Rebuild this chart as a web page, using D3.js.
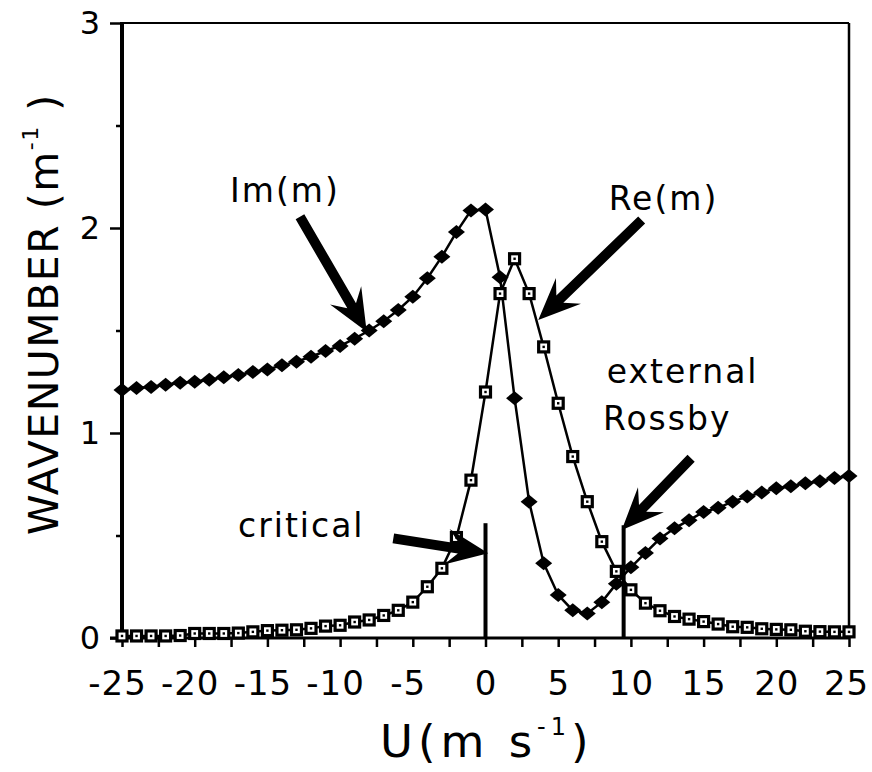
<!DOCTYPE html>
<html>
<head>
<meta charset="utf-8">
<script src="https://cdn.jsdelivr.net/npm/d3@7"></script>
<style>
  html, body { margin: 0; padding: 0; background: #fff; }
  svg { display: block; font-family: "DejaVu Sans", sans-serif; }
</style>
</head>
<body>
<div id="chart"></div>
<script>
// basic state wind U (m s-1), one point per 1 m/s
const uValues = [-25, -24, -23, -22, -21, -20, -19, -18, -17, -16, -15, -14, -13, -12, -11, -10,
  -9, -8, -7, -6, -5, -4, -3, -2, -1, 0, 1, 2, 3, 4, 5, 6, 7, 8, 9, 10,
  11, 12, 13, 14, 15, 16, 17, 18, 19, 20, 21, 22, 23, 24, 25];

// Im(m) - filled diamonds
const imValues = [1.21, 1.22, 1.225, 1.235, 1.245, 1.25, 1.26, 1.272, 1.283, 1.298, 1.31, 1.33, 1.348, 1.372, 1.40, 1.425,
  1.46, 1.50, 1.545, 1.60, 1.665, 1.755, 1.86, 1.98, 2.085, 2.09, 1.76, 1.17, 0.665, 0.365, 0.21, 0.135, 0.12, 0.175, 0.265, 0.345,
  0.415, 0.485, 0.535, 0.575, 0.615, 0.635, 0.665, 0.69, 0.71, 0.73, 0.74, 0.755, 0.765, 0.78, 0.79];

// Re(m) - open squares
const reValues = [0.01, 0.01, 0.01, 0.01, 0.012, 0.022, 0.022, 0.022, 0.024, 0.03, 0.036, 0.038, 0.04, 0.047, 0.058, 0.062,
  0.078, 0.088, 0.11, 0.135, 0.175, 0.25, 0.34, 0.49, 0.77, 1.20, 1.68, 1.85, 1.68, 1.42, 1.145, 0.885, 0.665, 0.47, 0.325, 0.235,
  0.17, 0.133, 0.105, 0.092, 0.08, 0.068, 0.055, 0.052, 0.045, 0.042, 0.04, 0.033, 0.031, 0.03, 0.03];

const xTickValues = [-25, -22.5, -20, -17.5, -15, -12.5, -10, -7.5, -5, -2.5, 0, 2.5, 5, 7.5, 10, 12.5, 15, 17.5, 20, 22.5, 25];
const yTickValues = [0, 0.5, 1, 1.5, 2, 2.5, 3];

// vertical markers: critical level and external Rossby wave
const levelU = [0, 9.5];
const levelTop = [0.56, 0.55];

// arrows in data units: tail u, tail v, tip u, tip v
const arrowTail = [[-12.76, 2.055], [10.74, 2.039], [14.14, 0.877], [-6.34, 0.486]];
const arrowTip = [[-8.17, 1.494], [3.63, 1.551], [9.37, 0.527], [0.19, 0.413]];

// annotation text
const labelText = ["Im(m)", "Re(m)", "external", "Rossby", "critical"];
const labelPos = [[-13.79, 2.127], [12.24, 2.088], [8.34, 1.242], [8.08, 1.015], [-17.02, 0.494]];
const labelAnchor = ["middle", "middle", "start", "start", "start"];

const W = 872, H = 772;
const svg = d3.select("#chart").append("svg").attr("width", W).attr("height", H);

const x = d3.scaleLinear().domain([-25, 25]).range([122, 849]);
const y = d3.scaleLinear().domain([0, 3]).range([638, 23]);

const imData = uValues.map((u, i) => ({u, v: imValues[i]}));
const reData = uValues.map((u, i) => ({u, v: reValues[i]}));

// frame
svg.append("line").attr("x1", x(-25)).attr("x2", x(25)).attr("y1", y(3)).attr("y2", y(3))
  .attr("stroke", "#000").attr("stroke-width", 2);
svg.append("line").attr("x1", x(25)).attr("x2", x(25)).attr("y1", y(3)).attr("y2", y(0))
  .attr("stroke", "#000").attr("stroke-width", 2.5);

// x axis
const xAxis = svg.append("g").attr("transform", `translate(0,${y(0)})`)
  .call(d3.axisBottom(x).tickValues(xTickValues).tickSize(9).tickPadding(24)
    .tickFormat(d => d % 5 === 0 ? String(d) : ""));
xAxis.select(".domain").remove();
xAxis.selectAll("line").attr("stroke-width", 2.5);
xAxis.selectAll("text").attr("font-size", 34).attr("font-family", "DejaVu Sans").attr("fill", "#000")
  .attr("letter-spacing", 1).attr("dx", d => d < 0 ? -5 : (d === 25 ? -3 : 0));
svg.append("line").attr("x1", x(-25) - 12).attr("x2", x(25)).attr("y1", y(0)).attr("y2", y(0))
  .attr("stroke", "#000").attr("stroke-width", 3);

// y axis
const yAxis = svg.append("g").attr("transform", `translate(${x(-25)},0)`)
  .call(d3.axisLeft(y).tickValues(yTickValues).tickSize(12).tickPadding(10)
    .tickFormat(d => Number.isInteger(d) ? d : ""));
yAxis.select(".domain").remove();
yAxis.selectAll("line").attr("stroke-width", 2.5).attr("x2", d => Number.isInteger(d) ? -12 : -6);
yAxis.selectAll("text").attr("font-size", 32).attr("font-family", "DejaVu Sans").attr("fill", "#000");
svg.append("line").attr("x1", x(-25)).attr("x2", x(-25)).attr("y1", y(3) - 1).attr("y2", y(0) + 2)
  .attr("stroke", "#000").attr("stroke-width", 4);

// axis titles
const xTitle = svg.append("text").attr("x", 380).attr("y", 757)
  .attr("font-size", 45).attr("letter-spacing", 5);
xTitle.append("tspan").text("U(m s");
xTitle.append("tspan").attr("font-size", 24).attr("dy", -22).text("-1");
xTitle.append("tspan").attr("dy", 22).text(")");

const yTitle = svg.append("text").attr("transform", "translate(58,535) rotate(-90)")
  .attr("font-size", 41).attr("letter-spacing", 1.5);
yTitle.append("tspan").text("WAVENUMBER (m");
yTitle.append("tspan").attr("font-size", 22).attr("dy", -20).text("-1");
yTitle.append("tspan").attr("dy", 20).text(" )");

// vertical level lines
levelU.forEach((u, i) => {
  svg.append("line").attr("x1", x(u)).attr("x2", x(u)).attr("y1", y(0)).attr("y2", y(levelTop[i]))
    .attr("stroke", "#000").attr("stroke-width", 4);
});

// curves
const line = d3.line().x(d => x(d.u)).y(d => y(d.v));
svg.append("path").datum(imData).attr("d", line).attr("fill", "none").attr("stroke", "#000").attr("stroke-width", 2.5);
svg.append("path").datum(reData).attr("d", line).attr("fill", "none").attr("stroke", "#000").attr("stroke-width", 2.5);

// Re(m) squares
const sq = svg.append("g").selectAll("g").data(reData).join("g")
  .attr("transform", d => `translate(${x(d.u)},${y(d.v)})`);
sq.append("rect").attr("x", -5).attr("y", -5).attr("width", 10).attr("height", 10)
  .attr("fill", "#fff").attr("stroke", "#000").attr("stroke-width", 3.2);
sq.append("rect").attr("x", -1.2).attr("y", -1.2).attr("width", 2.4).attr("height", 2.4).attr("fill", "#000");

// Im(m) diamonds
svg.append("g").selectAll("path").data(imData).join("path")
  .attr("transform", d => `translate(${x(d.u)},${y(d.v)})`)
  .attr("d", "M-8.5,0L0,-7L8.5,0L0,7Z").attr("fill", "#000");

// arrows
function arrowPath(t, h) {
  const sx = x(t[0]), sy = y(t[1]), tx = x(h[0]), ty = y(h[1]);
  const len = Math.hypot(tx - sx, ty - sy);
  const dx = (tx - sx) / len, dy = (ty - sy) / len;
  const nx = -dy, ny = dx;
  const L = 42, Wd = 18, w = 5, notch = 30;
  const pts = [
    [sx + nx * w, sy + ny * w],
    [tx - dx * notch + nx * w, ty - dy * notch + ny * w],
    [tx - dx * L + nx * Wd, ty - dy * L + ny * Wd],
    [tx, ty],
    [tx - dx * L - nx * Wd, ty - dy * L - ny * Wd],
    [tx - dx * notch - nx * w, ty - dy * notch - ny * w],
    [sx - nx * w, sy - ny * w]
  ];
  return "M" + pts.map(p => p.join(",")).join("L") + "Z";
}
arrowTail.forEach((t, i) => {
  svg.append("path").attr("d", arrowPath(t, arrowTip[i])).attr("fill", "#000");
});

// labels
labelText.forEach((s, i) => {
  svg.append("text").attr("x", x(labelPos[i][0])).attr("y", y(labelPos[i][1]))
    .attr("text-anchor", labelAnchor[i]).attr("font-size", 33).attr("letter-spacing", 2)
    .text(s);
});
</script>
</body>
</html>
